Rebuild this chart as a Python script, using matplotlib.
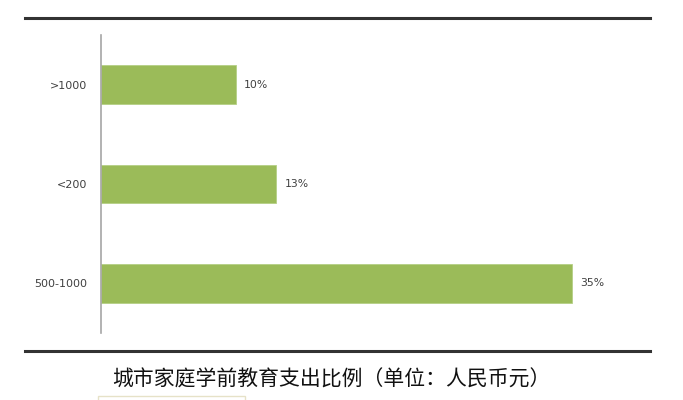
import matplotlib
matplotlib.use("Agg")
import matplotlib.pyplot as plt
from matplotlib.lines import Line2D
from matplotlib.patches import Rectangle

plt.rcParams['font.family'] = ['Noto Sans CJK SC', 'DejaVu Sans']

categories = ["500-1000", "<200", ">1000"]
values = [35, 13, 10]
value_labels = ["35%", "13%", "10%"]
title = "城市家庭学前教育支出比例（单位：人民币元）"

W, H = 683, 400
fig = plt.figure(figsize=(W / 100, H / 100), dpi=100)

# plot area: axis at x=101, y from 35 to 333 px
ax = fig.add_axes([101 / W, (H - 333) / H, 538 / W, 298 / H])
ypos = range(len(categories))
ax.barh(ypos, values, height=0.39, color="#9BBB59", edgecolor="#b5cf85", linewidth=0.6)
for y, v, lab in zip(ypos, values, value_labels):
	ax.text(v + 0.65, y, lab, va="center", ha="left", fontsize=7.8, color="#404040",
			family=["DejaVu Sans"])
ax.set_xlim(0, 40)
ax.set_ylim(-0.5, 2.5)
ax.set_yticks(list(ypos))
ax.set_yticklabels(categories, fontsize=8, color="#404040", family=["DejaVu Sans"])
ax.tick_params(axis="y", length=0, pad=10)
ax.set_xticks([])
for s in ["top", "right", "bottom"]:
	ax.spines[s].set_visible(False)
ax.spines["left"].set_color("#a6a6a6")
ax.spines["left"].set_linewidth(1.2)

# frame lines above and below the chart
fig.add_artist(Line2D([25 / W, 650 / W], [(H - 18) / H] * 2, color="#333333", lw=2.2))
fig.add_artist(Line2D([25 / W, 650 / W], [(H - 351) / H] * 2, color="#333333", lw=2.2))

fig.text(331 / W, (H - 380) / H, title, ha="center", va="center", fontsize=15,
		 color="#111111", weight="medium")

# small box clipped at the bottom edge
fig.add_artist(Rectangle((98 / W, -0.01), 147 / W, (H - 396) / H + 0.01,
						 transform=fig.transFigure, fill=False, edgecolor="#e6e2c8", lw=1))

fig.savefig("out.png", dpi=100)
